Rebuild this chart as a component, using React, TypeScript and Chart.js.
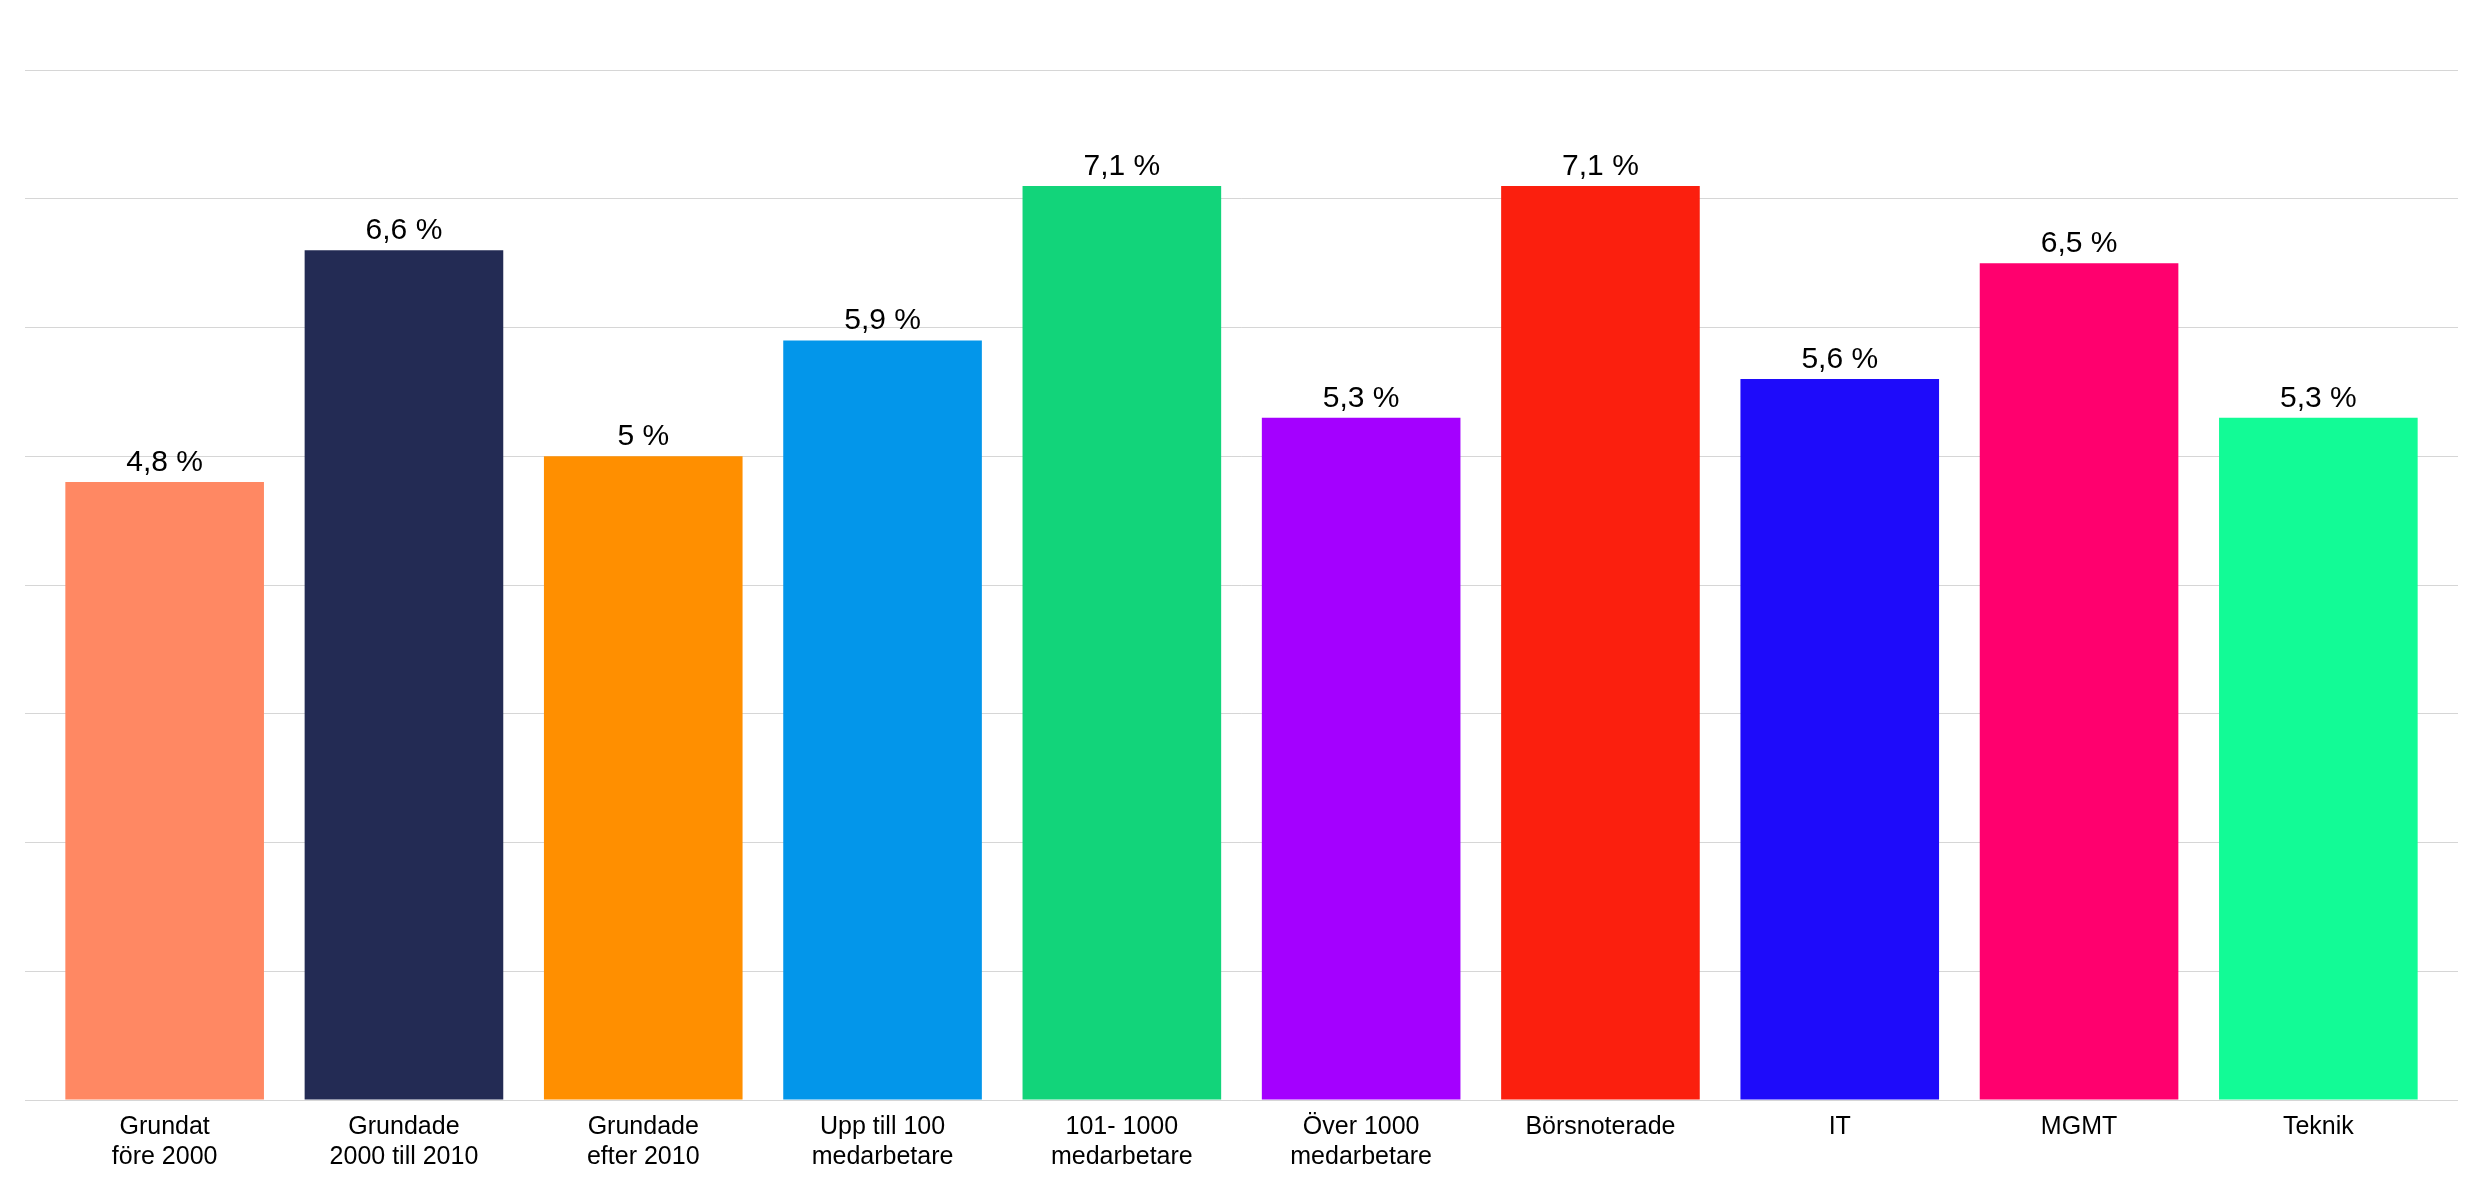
import { useEffect, useRef } from 'react';
import { Chart, registerables } from 'chart.js';

Chart.register(...registerables);

const categories: (string | string[])[] = [
  ['Grundat', 'före 2000'],
  ['Grundade', '2000 till 2010'],
  ['Grundade', 'efter 2010'],
  ['Upp till 100', 'medarbetare'],
  ['101- 1000', 'medarbetare'],
  ['Över 1000', 'medarbetare'],
  'Börsnoterade',
  'IT',
  'MGMT',
  'Teknik',
];

const values = [4.8, 6.6, 5, 5.9, 7.1, 5.3, 7.1, 5.6, 6.5, 5.3];

const barColors = [
  '#ff8863',
  '#232b54',
  '#ff8f00',
  '#0396ea',
  '#12d47a',
  '#a400ff',
  '#fb1f0e',
  '#1e0bfa',
  '#ff006e',
  '#12fb96',
];

const FONT = '"Liberation Sans", Arial, Helvetica, sans-serif';
const GRID = '#d6d6d6';

const fmt = (v: number) => String(v).replace('.', ',') + ' %';

// value labels above each bar
const valueLabels = {
  id: 'valueLabels',
  afterDatasetsDraw(chart: any) {
    const { ctx } = chart;
    const meta = chart.getDatasetMeta(0);
    ctx.save();
    ctx.font = `30px ${FONT}`;
    ctx.fillStyle = '#000';
    ctx.textAlign = 'center';
    ctx.textBaseline = 'alphabetic';
    meta.data.forEach((bar: any, i: number) => {
      ctx.fillText(fmt(values[i]), bar.x, bar.y - 11);
    });
    ctx.restore();
  },
};

export default function App() {
  const canvasRef = useRef<HTMLCanvasElement>(null);

  useEffect(() => {
    if (!canvasRef.current) return;
    const chart = new Chart(canvasRef.current, {
      type: 'bar',
      data: {
        labels: categories,
        datasets: [
          {
            data: values,
            backgroundColor: barColors,
            borderWidth: 0,
            categoryPercentage: 1,
            barPercentage: 0.83,
          },
        ],
      },
      options: {
        animation: false,
        responsive: true,
        maintainAspectRatio: false,
        layout: { padding: { left: 25, right: 34, top: 70, bottom: 0 } },
        plugins: {
          legend: { display: false },
          tooltip: { enabled: false },
        },
        scales: {
          x: {
            grid: { display: false, drawTicks: false },
            border: { display: false },
            ticks: {
              color: '#000',
              padding: 12,
              maxRotation: 0,
              autoSkip: false,
              font: { family: FONT, size: 25, lineHeight: 1.2 },
            },
            afterFit: (s: any) => {
              s.height = 80;
            },
          },
          y: {
            min: 0,
            max: 8,
            ticks: { display: false, stepSize: 1 },
            grid: { color: GRID, lineWidth: 1, drawTicks: true, tickLength: 20, tickColor: GRID },
            border: { display: false },
            afterFit: (s: any) => {
              s.width = 20;
            },
          },
          y2: {
            position: 'right',
            min: 0,
            max: 8,
            ticks: { display: false, stepSize: 1 },
            grid: { color: GRID, lineWidth: 1, drawTicks: true, tickLength: 20, tickColor: GRID },
            border: { display: false },
            afterFit: (s: any) => {
              s.width = 20;
            },
          },
        },
      },
      plugins: [valueLabels],
    });
    return () => chart.destroy();
  }, []);

  return (
    <div style={{ position: 'absolute', left: 0, top: 0, width: 2492, height: 1180, background: '#fff' }}>
      <canvas ref={canvasRef} />
    </div>
  );
}
